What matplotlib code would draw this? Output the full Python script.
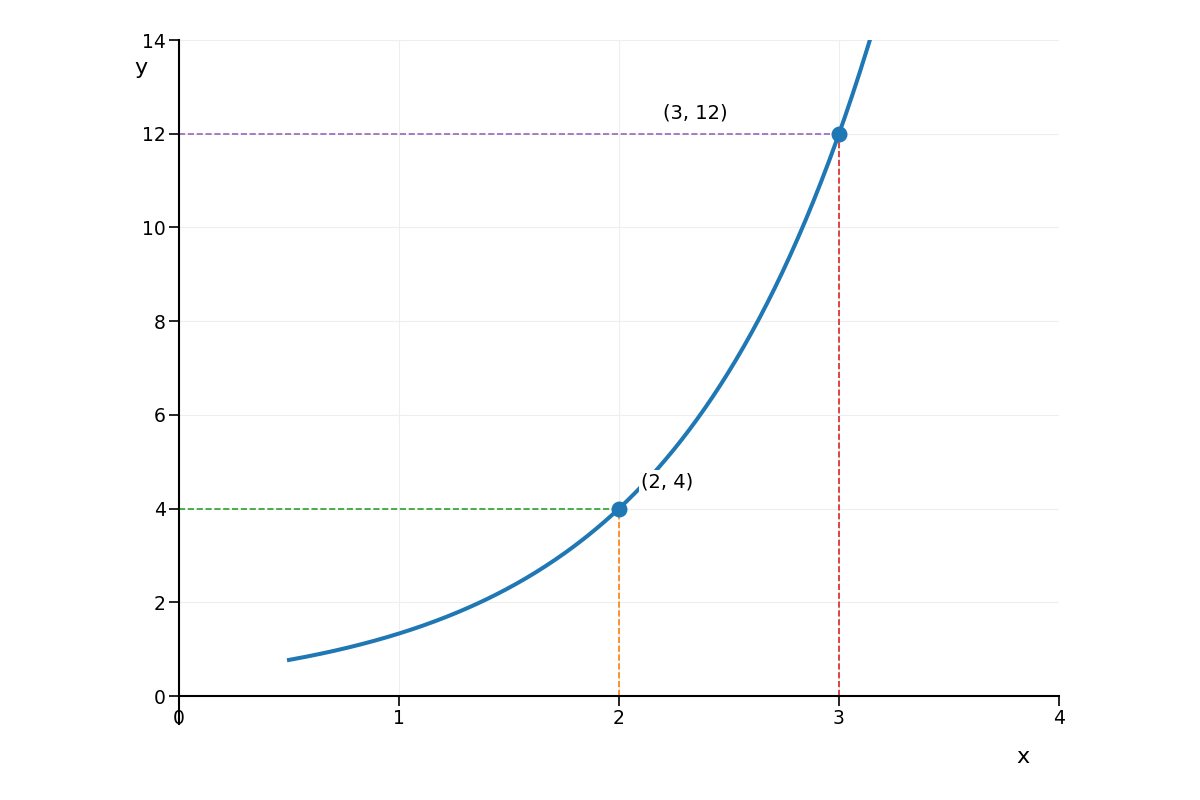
import numpy as np
import matplotlib
matplotlib.use("Agg")
import matplotlib.pyplot as plt

# marked points on the curve
point_x = [2, 3]
point_y = [4, 12]
point_labels = ["(2, 4)", "(3, 12)"]

# curve y = a * b**x through the two marked points
b = point_y[1] / point_y[0]
a = point_y[0] / b ** point_x[0]
x_start = 0.5
x_end = np.log(14 / a) / np.log(b)

x_ticks = [0, 1, 2, 3, 4]
y_ticks = [0, 2, 4, 6, 8, 10, 12, 14]

fig = plt.figure(figsize=(12, 8), dpi=100)
ax = fig.add_axes([179 / 1200, 104 / 800, 880 / 1200, 656 / 800])

xs = np.linspace(x_start, x_end, 300)
ax.plot(xs, a * b ** xs, color="#1f77b4", lw=2.9, zorder=3)

# guide lines
ax.plot([0, point_x[0]], [point_y[0]] * 2, ls="--", color="#2ca02c", lw=1.2, zorder=2)
ax.plot([point_x[0]] * 2, [0, point_y[0]], ls="--", color="#ff7f0e", lw=1.2, zorder=2)
ax.plot([0, point_x[1]], [point_y[1]] * 2, ls="--", color="#9467bd", lw=1.2, zorder=2)
ax.plot([point_x[1]] * 2, [0, point_y[1]], ls="--", color="#d62728", lw=1.2, zorder=2)

ax.scatter(point_x, point_y, s=110, color="#1f77b4", zorder=4)

offsets = [(0.1, 0.57), (-0.8, 0.45)]
for px, py, lab, (dx, dy) in zip(point_x, point_y, point_labels, offsets):
    ax.text(px + dx, py + dy, lab, fontsize=14, ha="left", va="center", zorder=5,
            bbox=dict(facecolor="white", edgecolor="none", pad=1.5))

ax.set_xlim(0, 4)
ax.set_ylim(0, 14)
ax.set_xticks(x_ticks)
ax.set_yticks(y_ticks)
ax.tick_params(labelsize=13.5, length=7, width=1.2, pad=2.5)
ax.grid(True, color="#eeeeee", lw=0.8)
ax.set_axisbelow(True)

for side in ["top", "right"]:
    ax.spines[side].set_visible(False)
for side in ["left", "bottom"]:
    ax.spines[side].set_linewidth(1.5)
ax.spines["left"].set_bounds(-0.6, 14)

ax.set_xlabel("x", fontsize=16)
ax.set_ylabel("y", fontsize=16, rotation=0)
ax.xaxis.set_label_coords(0.959, -0.078)
ax.yaxis.set_label_coords(-0.043, 0.942)

fig.savefig("out.png", dpi=100)
